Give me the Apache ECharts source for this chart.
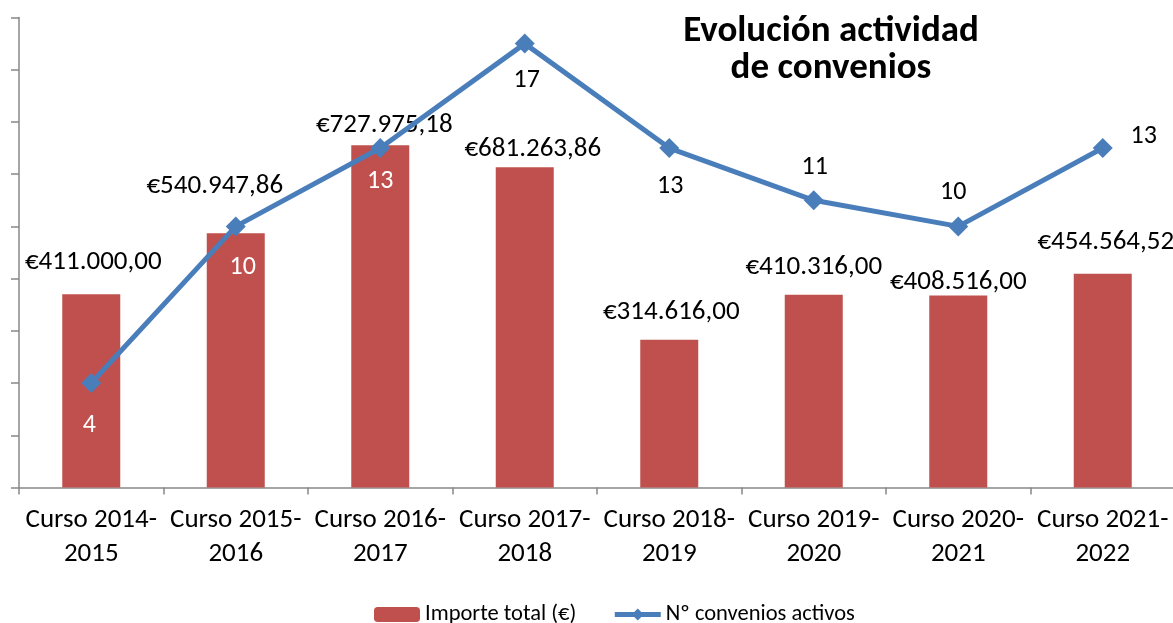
<!DOCTYPE html>
<html>
<head>
<meta charset="utf-8">
<script src="https://cdn.jsdelivr.net/npm/echarts@6/dist/echarts.min.js"></script>
<style>
  html, body { margin: 0; padding: 0; background: #fff; }
  #main { width: 1173px; height: 623px; }
</style>
</head>
<body>
<div id="main"></div>
<script>
// datos
const cursos = ['Curso 2014-2015', 'Curso 2015-2016', 'Curso 2016-2017', 'Curso 2017-2018',
  'Curso 2018-2019', 'Curso 2019-2020', 'Curso 2020-2021', 'Curso 2021-2022']
const importeTotal = [411000.00, 540947.86, 727975.18, 681263.86, 314616.00, 410316.00, 408516.00, 454564.52]
const convenios = [4, 10, 13, 17, 13, 11, 10, 13]

// ajustes manuales de las etiquetas (como en el original)
const importeLabelOffset = [[2, -20], [-21, -35], [4, -8], [8, -6], [2, -15], [0, -15], [0, -1], [3, -20]]
const conveniosLabelOffset = [[-2, 42], [7, 41], [0, 33], [2, 37], [1, 38], [1, -33], [-5, -34], [41, -12]]
const conveniosLabelColor = ['#fff', '#fff', '#fff', '#000', '#000', '#000', '#000', '#000']

const FONT = 'Carlito, Calibri, "Liberation Sans", Arial, sans-serif'

function euro (v) {
  const [ent, dec] = v.toFixed(2).split('.')
  return '€' + ent.replace(/\B(?=(\d{3})+(?!\d))/g, '.') + ',' + dec
}

const chart = echarts.init(document.getElementById('main'))
chart.setOption({
  animation: false,
  textStyle: { fontFamily: FONT },
  graphic: [{
    type: 'text',
    x: 831,
    y: 13,
    style: {
      text: 'Evolución actividad\nde convenios',
      align: 'center',
      verticalAlign: 'top',
      font: 'bold 37px ' + FONT,
      lineHeight: 37,
      fill: '#000'
    }
  }],
  legend: {
    left: 369,
    top: 598,
    itemWidth: 46,
    itemHeight: 15,
    itemGap: 36,
    lineStyle: { width: 5 },
    textStyle: { fontSize: 22.5, color: '#000', fontFamily: FONT },
    data: ['Importe total (€)', 'Nº convenios activos']
  },
  grid: {
    left: 19,
    top: 17.5,
    width: 1156,
    height: 470,
    outerBoundsMode: 'none'
  },
  xAxis: {
    type: 'category',
    data: cursos,
    axisLine: { lineStyle: { color: '#888', width: 1.5 } },
    axisTick: { show: true, length: 7, lineStyle: { color: '#888', width: 1.5 } },
    axisLabel: {
      interval: 0,
      margin: 16,
      fontSize: 27,
      lineHeight: 34,
      color: '#000',
      fontFamily: FONT,
      formatter: v => v.replace('-', '-\n')
    }
  },
  yAxis: [
    {
      type: 'value',
      min: 0,
      max: 18,
      interval: 2,
      axisLine: { show: true, lineStyle: { color: '#888', width: 1.5 } },
      axisTick: { show: true, length: 8, lineStyle: { color: '#888', width: 1.5 } },
      axisLabel: { show: false },
      splitLine: { show: false }
    },
    {
      type: 'value',
      min: 0,
      max: 1000000,
      show: false,
      splitLine: { show: false }
    }
  ],
  series: [
    {
      name: 'Importe total (€)',
      type: 'bar',
      yAxisIndex: 1,
      barWidth: 58,
      itemStyle: { color: '#c0504d' },
      label: {
        show: true,
        position: 'top',
        distance: 0,
        fontSize: 27,
        lineHeight: 24,
        color: '#000',
        fontFamily: FONT,
        formatter: p => euro(p.value)
      },
      data: importeTotal.map((v, i) => ({
        value: v,
        label: { offset: importeLabelOffset[i] }
      }))
    },
    {
      name: 'Nº convenios activos',
      type: 'line',
      yAxisIndex: 0,
      symbol: 'diamond',
      symbolSize: 20,
      lineStyle: { color: '#4a7ebb', width: 5 },
      itemStyle: { color: '#4a7ebb' },
      label: {
        show: true,
        position: 'inside',
        fontSize: 26,
        fontFamily: FONT
      },
      data: convenios.map((v, i) => ({
        value: v,
        label: { offset: conveniosLabelOffset[i], color: conveniosLabelColor[i] }
      }))
    }
  ]
})
</script>
</body>
</html>
